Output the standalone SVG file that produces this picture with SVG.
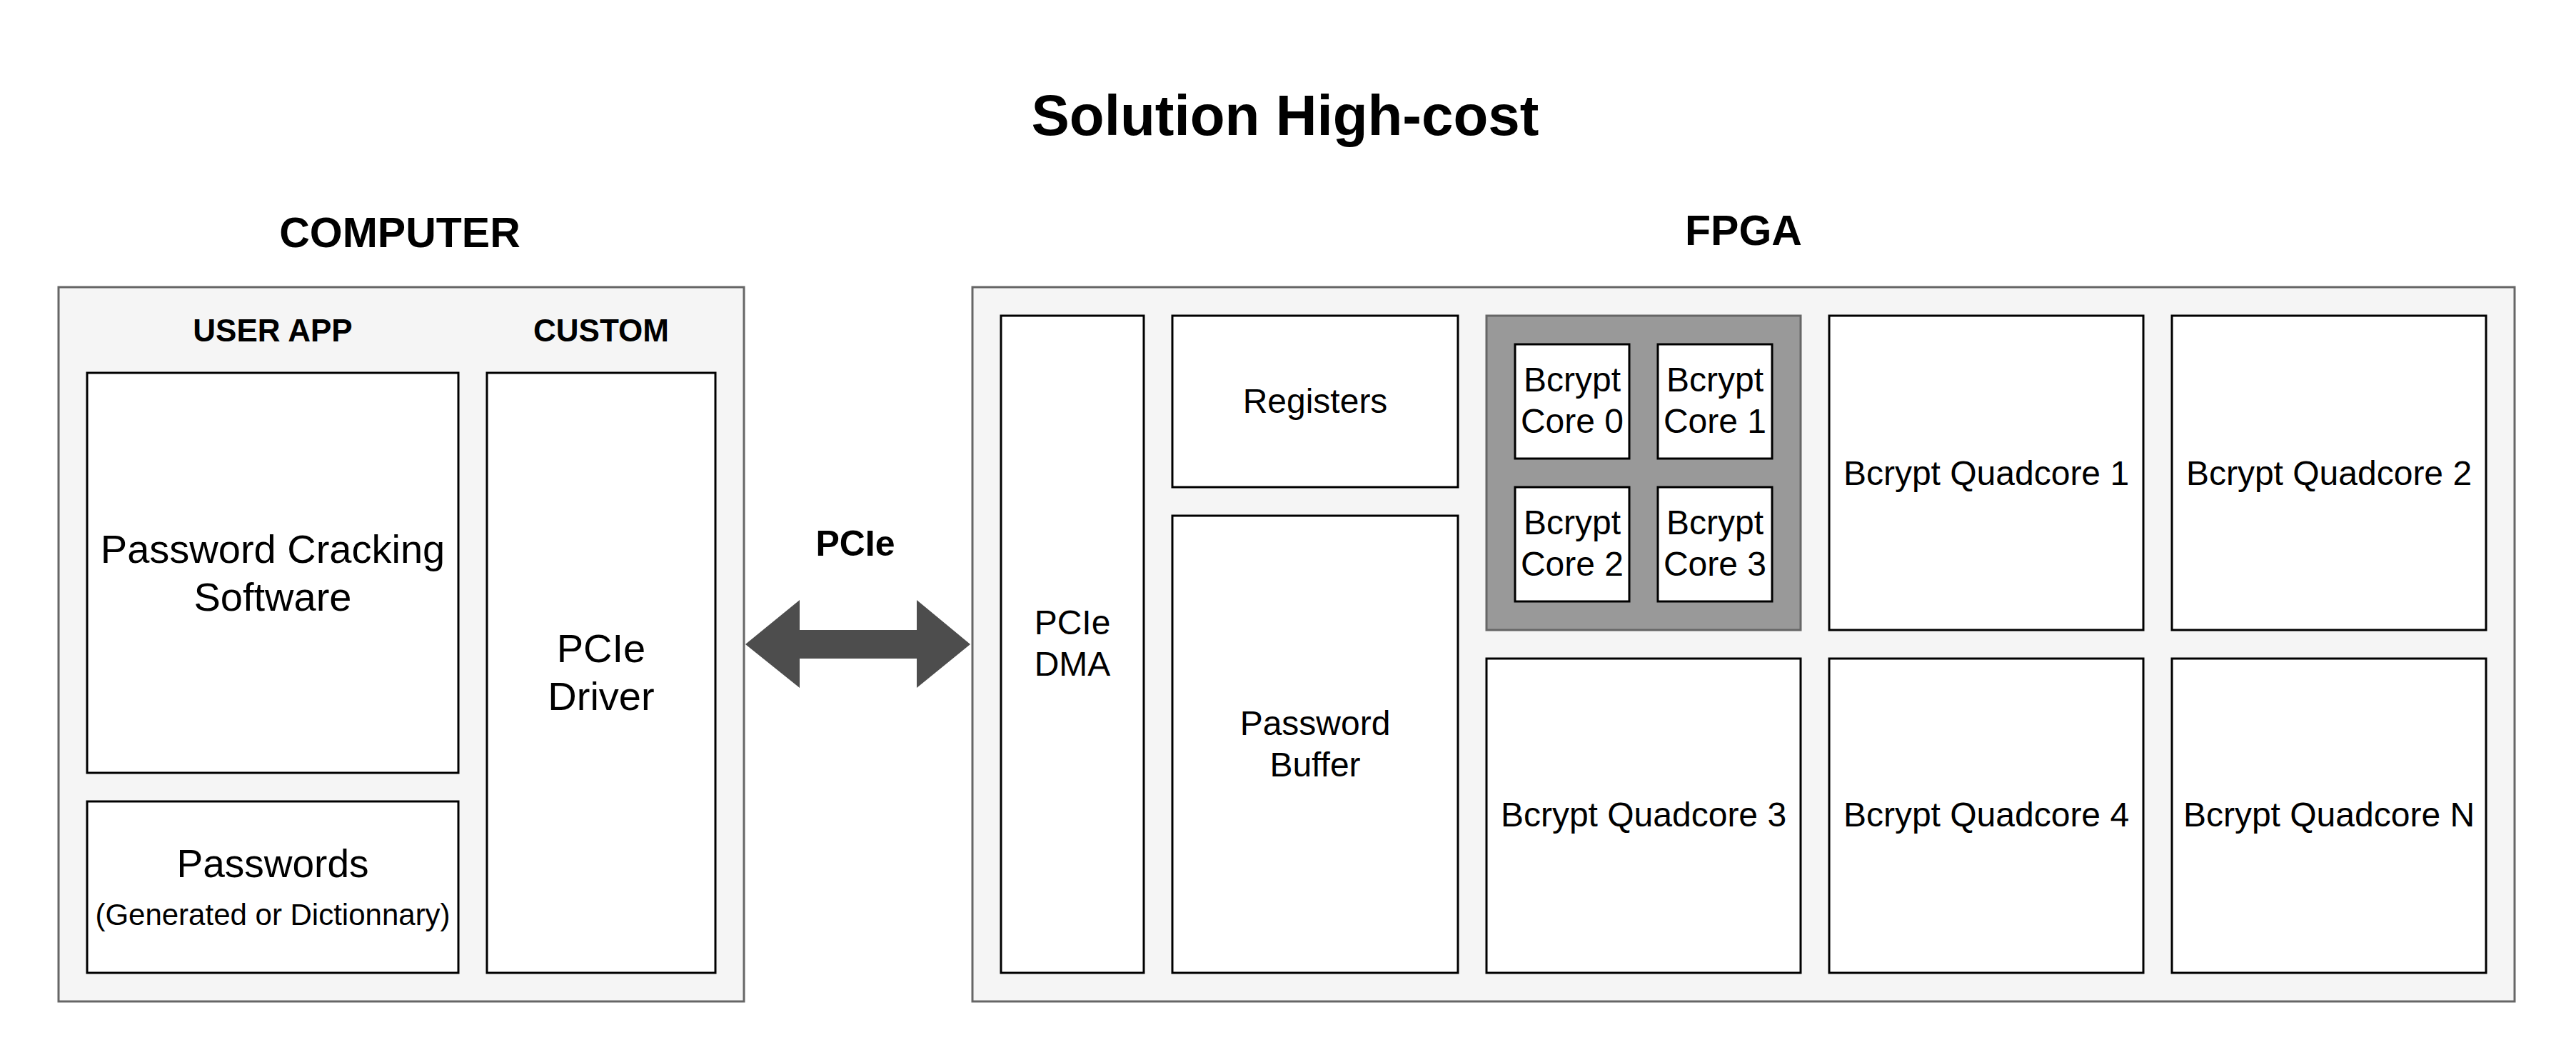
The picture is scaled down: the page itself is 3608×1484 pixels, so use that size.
<svg xmlns="http://www.w3.org/2000/svg" width="3608" height="1484" viewBox="0 0 3608 1484">
<style>
text{font-family:"Liberation Sans",Arial,sans-serif;fill:#000;text-anchor:middle}
.b{font-weight:bold}
.outer{fill:#f5f5f5;stroke:#666666;stroke-width:3}
.box{fill:#ffffff;stroke:#000000;stroke-width:3}
.quad{fill:#999999;stroke:#666666;stroke-width:3}
.t56{font-size:56px}
.t48{font-size:48px}
</style>
<rect width="3608" height="1484" fill="#ffffff"/>
<text id="title" class="b" x="1800" y="189" font-size="80">Solution High-cost</text>

<g id="computer">
<text class="b" x="560" y="346" font-size="59">COMPUTER</text>
<rect class="outer" x="82" y="402" width="960" height="1000"/>
<text class="b" x="382" y="478" font-size="44">USER APP</text>
<text class="b" x="842" y="478" font-size="44">CUSTOM</text>
</g>
<g id="cracking-software">
<rect class="box" x="122" y="522" width="520" height="560"/>
<text class="t56" x="382" y="788">Password Cracking</text>
<text class="t56" x="382" y="855">Software</text>
</g>
<g id="passwords">
<rect class="box" x="122" y="1122" width="520" height="240"/>
<text x="382" y="1228" font-size="55">Passwords</text>
<text x="382" y="1295" font-size="42">(Generated or Dictionnary)</text>
</g>
<g id="pcie-driver">
<rect class="box" x="682" y="522" width="320" height="840"/>
<text class="t56" x="842" y="927">PCIe</text>
<text class="t56" x="842" y="994">Driver</text>
</g>

<g id="fpga">
<text class="b" x="2442" y="343" font-size="59">FPGA</text>
<rect class="outer" x="1362" y="402" width="2160" height="1000"/>
</g>
<g id="pcie-dma">
<rect class="box" x="1402" y="442" width="200" height="920"/>
<text class="t48" x="1502" y="888">PCIe</text>
<text class="t48" x="1502" y="946">DMA</text>
</g>
<g id="registers">
<rect class="box" x="1642" y="442" width="400" height="240"/>
<text class="t48" x="1842" y="578">Registers</text>
</g>
<g id="password-buffer">
<rect class="box" x="1642" y="722" width="400" height="640"/>
<text class="t48" x="1842" y="1029">Password</text>
<text class="t48" x="1842" y="1087">Buffer</text>
</g>
<g id="quadcore-0">
<rect class="quad" x="2082" y="442" width="440" height="440"/>
</g>
<g id="core-0">
<rect class="box" x="2122" y="482" width="160" height="160"/>
<text class="t48" x="2202" y="548">Bcrypt</text>
<text class="t48" x="2202" y="606">Core 0</text>
</g>
<g id="core-1">
<rect class="box" x="2322" y="482" width="160" height="160"/>
<text class="t48" x="2402" y="548">Bcrypt</text>
<text class="t48" x="2402" y="606">Core 1</text>
</g>
<g id="core-2">
<rect class="box" x="2122" y="682" width="160" height="160"/>
<text class="t48" x="2202" y="748">Bcrypt</text>
<text class="t48" x="2202" y="806">Core 2</text>
</g>
<g id="core-3">
<rect class="box" x="2322" y="682" width="160" height="160"/>
<text class="t48" x="2402" y="748">Bcrypt</text>
<text class="t48" x="2402" y="806">Core 3</text>
</g>
<g id="quadcore-1">
<rect class="box" x="2562" y="442" width="440" height="440"/>
<text class="t48" x="2782" y="679">Bcrypt Quadcore 1</text>
</g>
<g id="quadcore-2">
<rect class="box" x="3042" y="442" width="440" height="440"/>
<text class="t48" x="3262" y="679">Bcrypt Quadcore 2</text>
</g>
<g id="quadcore-3">
<rect class="box" x="2082" y="922" width="440" height="440"/>
<text class="t48" x="2302" y="1157">Bcrypt Quadcore 3</text>
</g>
<g id="quadcore-4">
<rect class="box" x="2562" y="922" width="440" height="440"/>
<text class="t48" x="2782" y="1157">Bcrypt Quadcore 4</text>
</g>
<g id="quadcore-n">
<rect class="box" x="3042" y="922" width="440" height="440"/>
<text class="t48" x="3262" y="1157">Bcrypt Quadcore N</text>
</g>

<g id="connectors">
<polygon fill="#4d4d4d" points="1044,902 1120,840 1120,882 1284,882 1284,840 1359,902 1284,963 1284,922 1120,922 1120,963"/>
<text class="b" x="1198" y="778" font-size="50">PCIe</text>
</g>
</svg>
